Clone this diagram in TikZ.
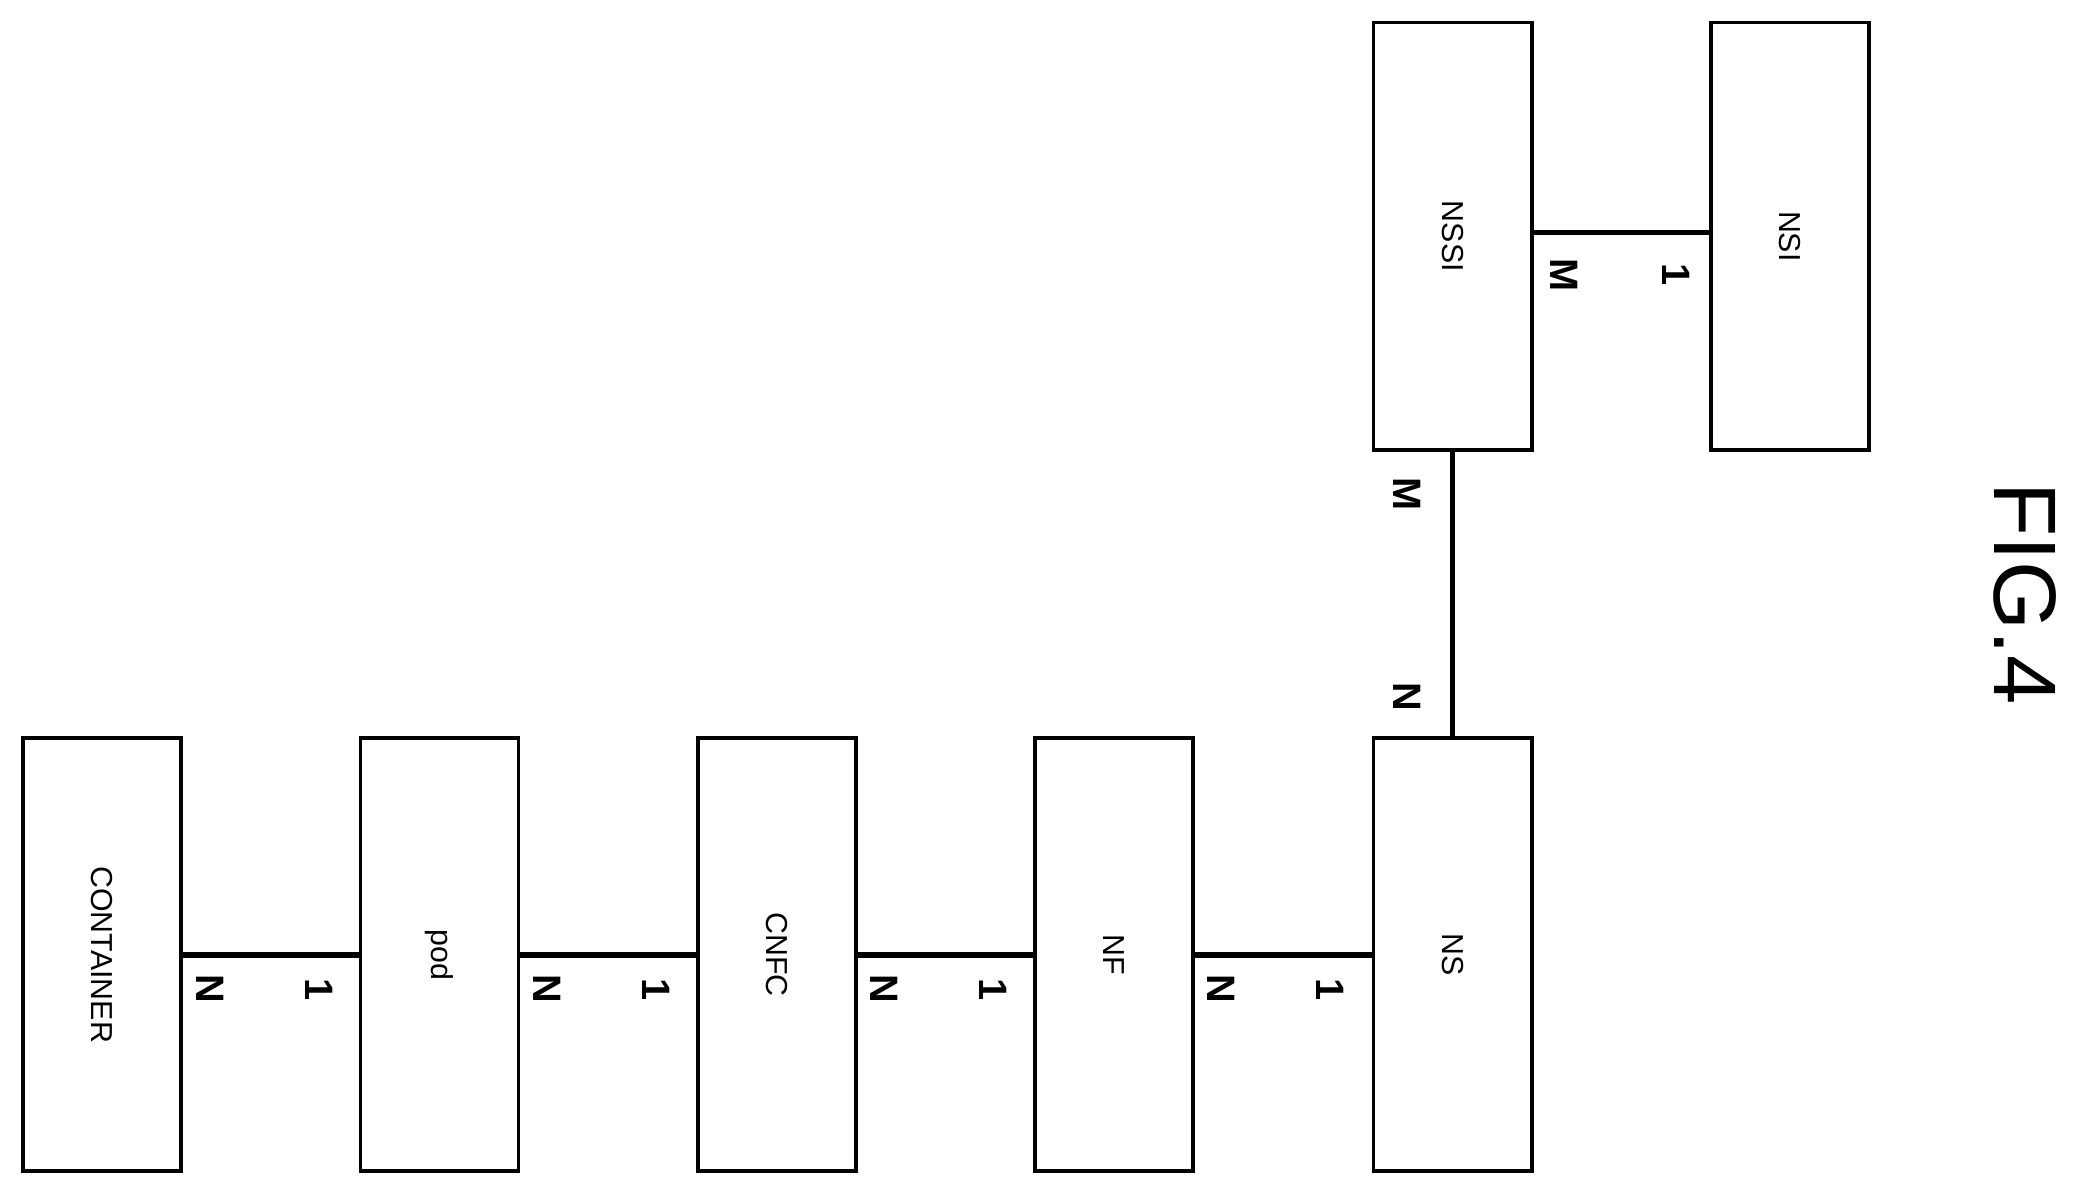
\documentclass[tikz,border=0pt]{standalone}
\usepackage{fontspec}
\setmainfont{Liberation Sans}
\begin{document}
\begin{tikzpicture}[x=0.01cm,y=-0.01cm,
  box/.style={draw,line width=0.8pt,minimum width=1.19cm,minimum height=3.24cm,inner sep=0pt,font=\fontsize{6}{7}\selectfont,rotate=-90},
  wbox/.style={draw,line width=0.8pt,minimum width=3.24cm,minimum height=1.19cm,inner sep=0pt},
  lab/.style={font=\fontsize{8.5}{9}\selectfont\bfseries,rotate=-90},
  conn/.style={line width=1.2pt}]
\useasboundingbox (0,0) rectangle (1568,896);
\foreach \n/\t/\x in {c/CONTAINER/77, p/pod/331, f/CNFC/585, nf/NF/839, ns/NS/1094}{
  \node[draw,line width=0.8pt,minimum width=1.19cm,minimum height=3.26cm,inner sep=0pt] (\n) at (\x,719) {};
  \node[font=\fontsize{6.5}{7}\selectfont,rotate=-90] at (\n) {\t};
}
\node[draw,line width=0.8pt,minimum width=1.19cm,minimum height=3.22cm,inner sep=0pt] (nssi) at (1094,178) {};
\node[font=\fontsize{6.5}{7}\selectfont,rotate=-90] at (nssi) {NSSI};
\node[draw,line width=0.8pt,minimum width=1.19cm,minimum height=3.22cm,inner sep=0pt] (nsi) at (1348,178) {};
\node[font=\fontsize{6.5}{7}\selectfont,rotate=-90] at (nsi) {NSI};
\draw[conn] (c.east) -- (p.west);
\draw[conn] (p.east) -- (f.west);
\draw[conn] (f.east) -- (nf.west);
\draw[conn] (nf.east) -- (ns.west);
\draw[conn] (ns.north) -- (nssi.south);
\draw[conn] (nssi.east |- 0,175) coordinate (a) -- (nsi.west |- 0,175);
\foreach \x in {158,412,666,920}{ \node[lab] at (\x,745) {N}; }
\foreach \x in {240,494,748,1002}{ \node[lab] at (\x,745) {1}; }
\node[lab] at (1178,207) {M};
\node[lab] at (1262,207) {1};
\node[lab] at (1060,372) {M};
\node[lab] at (1060,525) {N};
\node[font=\fontsize{19}{20}\selectfont,rotate=-90] at (1525,447) {FIG.4};
\end{tikzpicture}
\end{document}
